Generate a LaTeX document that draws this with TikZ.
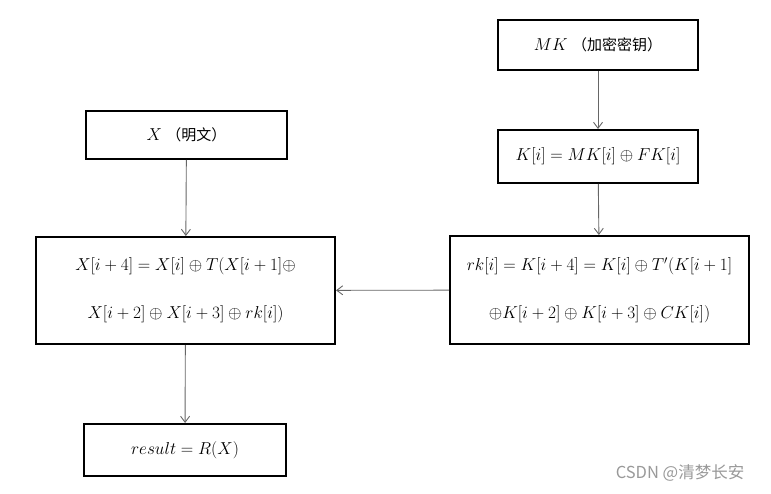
\documentclass[tikz,border=0pt]{standalone}
\usepackage{fontspec}
\setmainfont{Liberation Serif}
\newfontfamily\cjk{Noto Sans CJK SC}
\usetikzlibrary{arrows.meta}

\begin{document}
\begin{tikzpicture}[x=1pt,y=-1pt,font=\fontsize{17}{48}\selectfont,>={Straight Barb[length=6pt,width=9pt]},
  box/.style={rectangle,draw=black,line width=2pt,align=center,inner sep=0pt},
  ar/.style={->,black!60,line width=0.9pt}]
\useasboundingbox (0,0) rectangle (771,494);
\node[box,minimum width=200pt,minimum height=50pt](mk) at (598,45){$MK$ {\cjk\fontsize{15}{16}\selectfont （加密密钥）}};
\node[box,minimum width=200pt,minimum height=53pt](key) at (598,156.5){$K[i]=MK[i]\oplus FK[i]$};
\node[box,minimum width=201pt,minimum height=48pt](pt) at (186.5,135){$X$ {\cjk\fontsize{15}{16}\selectfont （明文）}};
\node[box,minimum width=299pt,minimum height=107pt](rnd) at (185.5,290.5){$X[i+4]=X[i]\oplus T(X[i+1]\oplus$\\$X[i+2]\oplus X[i+3]\oplus rk[i])$};
\node[box,minimum width=299pt,minimum height=108pt](rk) at (599.5,290){$rk[i]=K[i+4]=K[i]\oplus T'(K[i+1]$\\$\oplus K[i+2]\oplus K[i+3]\oplus CK[i])$};
\node[box,minimum width=202pt,minimum height=52pt](res) at (185,450){$result= R(X)$};
\node[text=black!40,font=\cjk\fontsize{16.5}{20}\selectfont](wm) at (680,473){CSDN @清梦长安};
\draw[ar](mk)--(key);
\draw[ar](key)--(rk);
\draw[ar](pt)--(rnd);
\draw[ar](rk)--(rnd);
\draw[ar](rnd)--(res);
\end{tikzpicture}
\end{document}
